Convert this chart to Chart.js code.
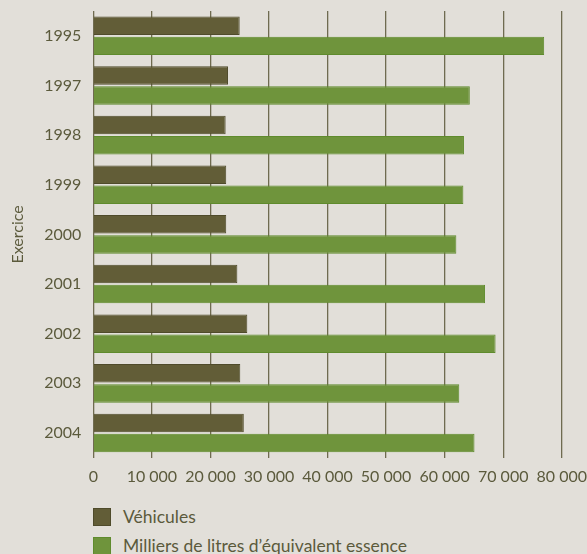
<!DOCTYPE html>
<html lang="fr">
<head>
<meta charset="utf-8">
<title>Exercice</title>
<script src="https://cdn.jsdelivr.net/npm/chart.js@4"></script>
<style>
    html, body { margin: 0; padding: 0; background: #e2dfd9; }
    #wrap { position: relative; width: 587px; height: 554px; overflow: hidden; }
    #myChart { display: block; }
    #legend {
        position: absolute; top: 502px; left: 93px;
        font-family: Lato, sans-serif;
        font-size: 17.5px; color: #5b5a3c;
    }
    #legend .item { display: flex; align-items: center; height: 29px; white-space: nowrap; }
    #legend .box { width: 16px; height: 16px; margin-right: 12px; border: 1px solid; }
</style>
</head>
<body>
<div id="wrap">
    <canvas id="myChart" width="587" height="500"></canvas>
    <div id="legend"></div>
</div>
<script>
const annees = ['1995', '1997', '1998', '1999', '2000', '2001', '2002', '2003', '2004'];
const vehicules = [25000, 23000, 22600, 22700, 22700, 24600, 26300, 25100, 25700];
const essence = [77000, 64300, 63300, 63200, 62000, 66900, 68700, 62500, 65100];
const seriesNames = ['Véhicules', 'Milliers de litres d’équivalent essence'];

const police = 'Lato, sans-serif';
const texte = '#5b5a3c';

// séparateur des milliers : espace
const milliers = (v) => String(v).replace(/\B(?=(\d{3})+(?!\d))/g, ' ');

const ctx = document.getElementById('myChart').getContext('2d');
const chart = new Chart(ctx, {
    type: 'bar',
    data: {
        labels: annees,
        datasets: [{
            label: seriesNames[0],
            data: vehicules,
            backgroundColor: '#625d37',
            borderColor: '#4f4b2b',
            borderWidth: 1
        }, {
            label: seriesNames[1],
            data: essence,
            backgroundColor: '#6f943c',
            borderColor: '#5f8b2d',
            borderWidth: 1
        }]
    },
    options: {
        indexAxis: 'y',
        responsive: false,
        animation: false,
        categoryPercentage: 0.81,
        barPercentage: 0.92,
        layout: {
            padding: { top: 11, right: 3, left: 8, bottom: 14 }
        },
        scales: {
            x: {
                min: 0,
                max: 80000,
                ticks: {
                    stepSize: 10000,
                    padding: 0,
                    maxRotation: 0,
                    autoSkip: false,
                    color: texte,
                    font: { family: police, size: 16 },
                    callback: (value) => milliers(value)
                },
                // graduations invisibles : elles ne servent qu'à écarter les étiquettes
                grid: {
                    color: '#6f6b50',
                    lineWidth: 1.3,
                    drawTicks: true,
                    tickLength: 9,
                    tickColor: 'rgba(0,0,0,0)'
                },
                border: { display: false }
            },
            y: {
                ticks: {
                    padding: 0,
                    color: texte,
                    font: { family: police, size: 16 }
                },
                grid: { display: false, drawTicks: true, tickLength: 12 },
                border: { display: false },
                title: {
                    display: true,
                    text: 'Exercice',
                    color: texte,
                    font: { family: police, size: 16 },
                    padding: { top: 0, bottom: 17 }
                }
            }
        },
        plugins: {
            legend: { display: false },
            tooltip: { enabled: false }
        }
    }
});

// légende HTML, une ligne par série
const legend = document.getElementById('legend');
chart.data.datasets.forEach(ds => {
    const item = document.createElement('div');
    item.className = 'item';
    const box = document.createElement('span');
    box.className = 'box';
    box.style.background = ds.backgroundColor;
    box.style.borderColor = ds.borderColor;
    const label = document.createElement('span');
    label.textContent = ds.label;
    item.appendChild(box);
    item.appendChild(label);
    legend.appendChild(item);
});
</script>
</body>
</html>
